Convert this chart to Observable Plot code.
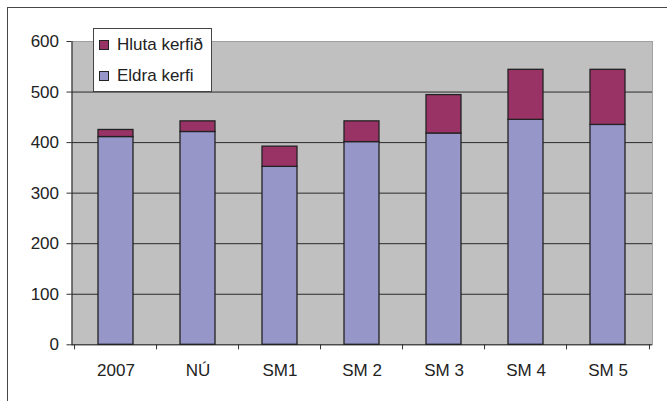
<!DOCTYPE html>
<html><head><meta charset="utf-8">
<script src="https://cdn.jsdelivr.net/npm/d3@7"></script>
<script src="https://cdn.jsdelivr.net/npm/@observablehq/plot@0.6"></script>
<style>
body{margin:0;background:#fff;}
#wrap{position:relative;width:667px;height:401px;overflow:hidden;font-family:"Liberation Sans",Arial,sans-serif;color:#222;}
#border{position:absolute;left:7px;top:7px;width:700px;height:420px;border-top:1.5px solid #474747;border-left:1.5px solid #474747;box-sizing:border-box;}
#chart{position:absolute;left:0;top:0;}
#legend{position:absolute;left:93px;top:28px;width:117px;height:62px;border:1px solid #444;background:#fff;}
.item{position:absolute;left:23px;font-size:17px;line-height:17px;white-space:nowrap;}
.sw{position:absolute;left:5px;width:8px;height:8px;border:1px solid #222;}
</style></head><body>
<div id="wrap"><div id="border"></div><div id="chart"></div><div id="legend"></div></div>
<script>
const categories = ["2007", "NÚ", "SM1", "SM 2", "SM 3", "SM 4", "SM 5"];
const eldra = [411, 421, 352, 401, 418, 445, 435];
const hluta = [14, 21, 40, 41, 76, 99, 109];
const series = ["Eldra kerfi", "Hluta kerfið"];
const colors = ["#9696c9", "#993366"];
const yTicks = [0, 100, 200, 300, 400, 500, 600];
const gridTicks = [100, 200, 300, 400, 500];

const rows = categories.flatMap((c, i) => [
  {cat: c, series: series[0], value: eldra[i]},
  {cat: c, series: series[1], value: hluta[i]}
]);

const W = 667, H = 401, mL = 71.5, mR = 15, mT = 41, mB = 56.7;
const step = (W - mL - mR) / categories.length;

const chart = Plot.plot({
  width: W, height: H,
  marginLeft: mL, marginRight: mR, marginTop: mT, marginBottom: mB,
  style: {fontFamily: "'Liberation Sans', Arial, sans-serif", fontSize: "17px", color: "#222", background: "transparent", overflow: "visible"},
  x: {domain: categories, paddingInner: 0.57, paddingOuter: 0.285, label: null},
  y: {domain: [0, 600], label: null},
  color: {domain: series, range: colors},
  marks: [
    Plot.frame({fill: "#c0c0c0", stroke: "#a0a0a0"}),
    Plot.ruleY(gridTicks, {stroke: "#2a2a2a", strokeWidth: 1}),
    Plot.barY(rows, {x: "cat", y: "value", fill: "series", stroke: "#222", strokeWidth: 1.3}),
    Plot.ruleY([0], {stroke: "#222", strokeWidth: 1}),
    Plot.frame({anchor: "left", stroke: "#222"}),
    Plot.ruleX(categories, {x: d => d, dx: -step / 2, y1: 0, y2: -10, stroke: "#333"}),
    Plot.ruleX([categories[categories.length - 1]], {x: d => d, dx: step / 2, y1: 0, y2: -10, stroke: "#333"}),
    Plot.axisY({ticks: yTicks, tickSize: 5, tickPadding: 8, fontSize: 17, label: null, stroke: "#333"}),
    Plot.axisX({tickSize: 0, tickPadding: 19, fontSize: 17, label: null})
  ]
});
document.getElementById("chart").appendChild(chart);

const legend = document.getElementById("legend");
const order = [1, 0];
const tops = [6.6, 37.6];
order.forEach((si, k) => {
  const sw = document.createElement("div");
  sw.className = "sw";
  sw.style.top = (tops[k] + 4.5) + "px";
  sw.style.background = colors[si];
  legend.appendChild(sw);
  const t = document.createElement("div");
  t.className = "item";
  t.style.top = tops[k] + "px";
  t.textContent = series[si];
  legend.appendChild(t);
});
</script>
</body></html>
